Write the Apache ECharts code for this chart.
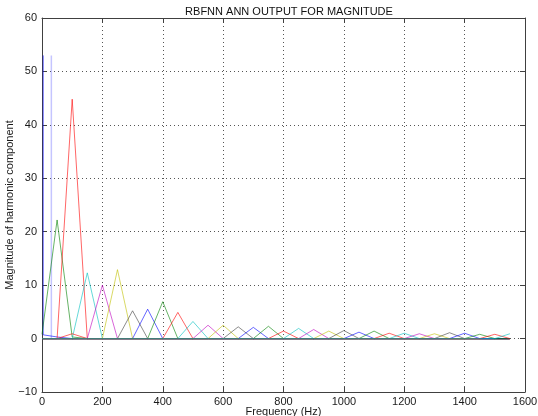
<!DOCTYPE html>
<html><head><meta charset="utf-8">
<script src="https://cdn.jsdelivr.net/npm/echarts/dist/echarts.min.js"></script>
<style>html,body{margin:0;padding:0;background:#fff}#c{width:538px;height:416px}</style>
</head><body><div id="c"></div>
<script>
// Frequencies of the harmonic samples (Hz)
const frequencies = [0,50,100,150,200,250,300,350,400,450,500,550,600,650,700,750,
  800,850,900,950,1000,1050,1100,1150,1200,1250,1300,1350,1400,1450,1500,1550];
// Peak magnitude output for each harmonic (one series per harmonic)
const peakValues = [53.0,22.2,44.8,12.3,10.0,12.9,5.2,5.5,6.9,4.9,3.2,2.5,2.5,2.2,2.1,2.3,
  1.4,1.9,1.7,1.4,1.5,1.2,1.4,1.0,1.0,0.9,0.9,1.1,1.0,0.8,0.8,0.9];
// Small non-zero residuals off the peak: [seriesIndex, sampleIndex, value]
const residuals = [[0,1,0.3],[1,0,0.8],[1,2,0.3],[9,2,0.9]];
// DC series starts with a vertical segment just right of 0 Hz
const dcLead = [[4,53.0],[4,0.7]];
// Faint vertical trace near the DC line
const dcGhost = [[31,0],[31,53.0]];
const xTicks = {min:0,max:1600,step:200};
const yTicks = {min:-10,max:60,step:10};

const colorCycle = ['rgba(0,0,255,0.6)','rgba(0,128,0,0.6)','rgba(255,0,0,0.6)',
  'rgba(0,191,191,0.6)','rgba(191,0,191,0.6)','rgba(191,191,0,0.6)','rgba(64,64,64,0.6)'];

const series = peakValues.map((pk, k) => {
  let data = frequencies.map((f, i) => [f, i === k ? pk : 0]);
  residuals.forEach(r => { if (r[0] === k) data[r[1]][1] = r[2]; });
  if (k === 0) data = dcLead.concat(data.slice(1));
  return {type:'line', data, symbol:'none', silent:true,
    lineStyle:{width:1, color:colorCycle[k % 7]}, itemStyle:{color:colorCycle[k % 7]}};
});
series.unshift({type:'line', data:dcGhost, symbol:'none', silent:true,
  lineStyle:{width:1.5, color:'rgba(90,90,255,0.35)'}});

const axisCol = '#404040';
const lbl = {color:'#1a1a1a', fontSize:11, fontFamily:'Liberation Sans, Arial, sans-serif'};
const fmt = v => String(v).replace('-', '\u2212');
const common = {type:'value', axisLine:{show:true, onZero:false, lineStyle:{color:axisCol, width:1}},
  axisTick:{show:true, inside:true, length:5, lineStyle:{color:axisCol}}};

const chart = echarts.init(document.getElementById('c'), null, {renderer:'canvas'});
chart.setOption({
  animation:false,
  backgroundColor:'#fff',
  title:{text:'RBFNN ANN OUTPUT FOR MAGNITUDE', left:284, textAlign:'center', top:1,
    textStyle:{fontSize:11, fontWeight:'normal', color:'#111', fontFamily:'Liberation Sans, Arial, sans-serif'}},
  grid:{left:42, right:13, top:18, bottom:24, containLabel:false, outerBoundsMode:'none'},
  xAxis:[
    Object.assign({}, common, {position:'bottom', min:xTicks.min, max:xTicks.max, interval:xTicks.step,
      splitLine:{show:true, lineStyle:{color:'#555', type:[1,3], width:1}},
      axisLabel:Object.assign({margin:4, formatter:fmt}, lbl),
      name:'Frequency (Hz)', nameLocation:'middle', nameGap:14, nameMoveOverlap:false, nameTextStyle:lbl}),
    Object.assign({}, common, {position:'top', min:xTicks.min, max:xTicks.max, interval:xTicks.step,
      splitLine:{show:false}, axisLabel:{show:false}})
  ],
  yAxis:[
    Object.assign({}, common, {position:'left', min:yTicks.min, max:yTicks.max, interval:yTicks.step,
      splitLine:{show:true, lineStyle:{color:'#555', type:[1,3], width:1}},
      axisLabel:Object.assign({margin:5, formatter:fmt}, lbl),
      name:'Magnitude of harmonic component', nameLocation:'middle', nameGap:27, nameMoveOverlap:false, nameTextStyle:lbl}),
    Object.assign({}, common, {position:'right', min:yTicks.min, max:yTicks.max, interval:yTicks.step,
      splitLine:{show:false}, axisLabel:{show:false}})
  ],
  series
});
</script></body></html>
